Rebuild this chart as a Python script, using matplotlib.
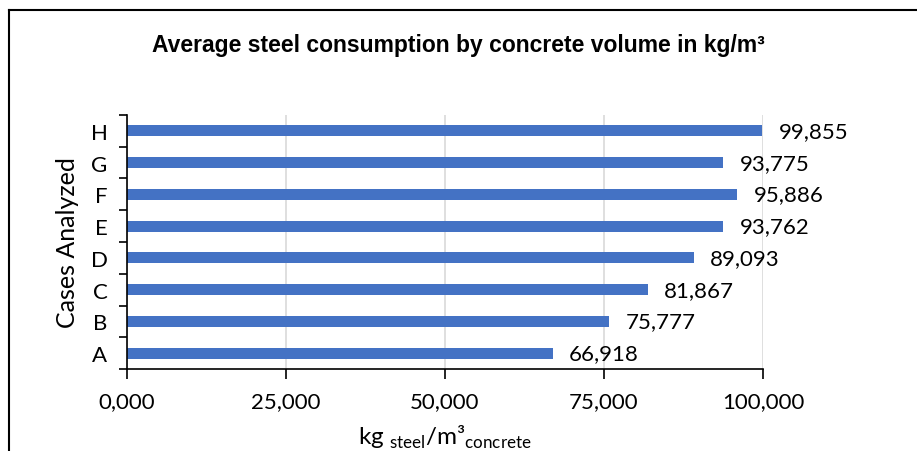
import numpy as np
import matplotlib.pyplot as plt
from matplotlib.lines import Line2D

# Average steel consumption per m3 of concrete for each case
cases = ['A', 'B', 'C', 'D', 'E', 'F', 'G', 'H']
steel = [66.918, 75.777, 81.867, 89.093, 93.762, 95.886, 93.775, 99.855]
xticks = [0, 25, 50, 75, 100]

plt.rcParams['font.family'] = ['Lato', 'DejaVu Sans']

def comma(v):
    return f'{v:.3f}'.replace('.', ',')

fig = plt.figure(figsize=(9.17, 4.52), dpi=100)
ax = fig.add_axes([0.1385, 0.1814, 0.832 - 0.1385, 0.7434 - 0.1814])

y = np.arange(len(cases))
ax.barh(y, steel, height=0.35, color='#4472C4', zorder=3)
for yi, v in zip(y, steel):
    ax.annotate(comma(v), (v, yi), xytext=(12, 0), textcoords='offset points',
                va='center', ha='left', fontsize=16, color='#000000')

ax.set_xlim(0, 100)
ax.set_ylim(-0.5, len(cases) - 0.5)
ax.set_xticks(xticks)
ax.set_xticklabels([comma(t) for t in xticks], fontsize=16)
ax.set_yticks(y)
ax.set_yticklabels(cases, fontsize=16)
ax.set_yticks(np.arange(-0.5, len(cases)), minor=True)
ax.tick_params(axis='y', which='major', length=0, pad=14)
ax.tick_params(axis='y', which='minor', length=6, width=1.2, color='black')
ax.tick_params(axis='x', length=7, width=1.2, color='black', pad=9)

ax.grid(axis='x', color='#D9D9D9', linewidth=1.2, zorder=0)
for s in ['top', 'right']:
    ax.spines[s].set_visible(False)
for s in ['left', 'bottom']:
    ax.spines[s].set_linewidth(1.2)
    ax.spines[s].set_zorder(4)

ax.set_ylabel('Cases Analyzed', fontsize=18, labelpad=8)
ax.set_xlabel(r'kg $_{\mathregular{steel}}$/m³$_{\mathregular{concrete}}$', fontsize=17.5, labelpad=8)

fig.text(0.5, 0.9, 'Average steel consumption by concrete volume in kg/m³',
         ha='center', va='center', fontsize=16.5, fontweight='bold',
         family=['Liberation Sans', 'DejaVu Sans'])

# chart frame (only the left and top edges are in view)
fig.add_artist(Line2D([0.0098, 0.0098], [0, 0.976], color='black', lw=1.5))
fig.add_artist(Line2D([0.0098, 1.0], [0.976, 0.976], color='black', lw=1.5))

fig.savefig('out.png', dpi=100)
